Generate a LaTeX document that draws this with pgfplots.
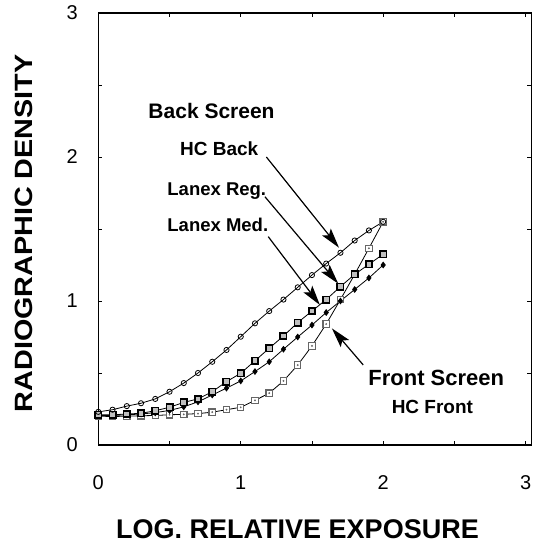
\documentclass[border=0pt]{standalone}
\usepackage{pgfplots}
\pgfplotsset{compat=1.18}
\usepackage{fontspec}
\setmainfont{Liberation Sans}
\usetikzlibrary{arrows.meta}

\begin{document}
\begin{tikzpicture}
\useasboundingbox (0,0) rectangle (540bp,545bp);
\begin{axis}[
  at={(98.3bp,100bp)}, anchor=south west,
  scale only axis, width=433bp, height=432bp,
  xmin=0, xmax=3.04, ymin=0, ymax=3,
  xtick={0,0.5,...,3}, xticklabels={0,,1,,2,,3},
  ytick={0,0.5,...,3}, yticklabels={0,,1,,2,,3},
  tick align=inside, major tick length=4bp,
  tick style={line width=0.8bp, black},
  axis line style={line width=1.3bp},
  /pgf/number format/assume math mode=true,
  ticklabel style={font=\fontsize{20bp}{24bp}\selectfont},
  xticklabel style={yshift=-27bp},
  yticklabel style={xshift=-17bp},
  xlabel={LOG. RELATIVE EXPOSURE},
  ylabel={\scalebox{1.15}[1]{RADIOGRAPHIC DENSITY}},
  xlabel style={at={(axis description cs:0.46,-0.194)}, anchor=center, font=\fontsize{27bp}{30bp}\selectfont\bfseries},
  ylabel style={at={(axis description cs:-0.171,0.49)}, anchor=center, font=\fontsize{25bp}{30bp}\selectfont\bfseries},
  clip=false,
]
% HC Front
\addplot[black, line width=0.8bp, mark=square*, mark size=3.2bp, mark options={solid, draw=black!60, fill=white, line width=1.1bp}] coordinates {
(0,0.2)(0.1,0.198)(0.2,0.2)(0.3,0.203)(0.4,0.205)(0.5,0.21)(0.6,0.213)(0.7,0.218)(0.8,0.228)(0.9,0.245)(1.0,0.262)(1.1,0.31)(1.2,0.36)(1.3,0.445)(1.4,0.555)(1.5,0.688)(1.6,0.84)(1.7,1.01)(1.8,1.185)(1.9,1.366)(2.0,1.55)};
\addplot[only marks, mark=*, mark size=0.7bp, mark options={draw=black!60, fill=black!60}] coordinates {
(0,0.2)(0.1,0.198)(0.2,0.2)(0.3,0.203)(0.4,0.205)(0.5,0.21)(0.6,0.213)(0.7,0.218)(0.8,0.228)(0.9,0.245)(1.0,0.262)(1.1,0.31)(1.2,0.36)(1.3,0.445)(1.4,0.555)(1.5,0.688)(1.6,0.84)(1.7,1.01)(1.8,1.185)(1.9,1.366)(2.0,1.55)};
% Lanex Med
\addplot[black, line width=0.8bp, mark=diamond*, mark size=2.8bp, mark options={solid, fill=black}] coordinates {
(0,0.205)(0.1,0.205)(0.2,0.21)(0.3,0.215)(0.4,0.225)(0.5,0.24)(0.6,0.265)(0.7,0.30)(0.8,0.347)(0.9,0.395)(1.0,0.445)(1.1,0.51)(1.2,0.578)(1.3,0.665)(1.4,0.75)(1.5,0.833)(1.6,0.92)(1.7,1.00)(1.8,1.08)(1.9,1.16)(2.0,1.25)};
% Lanex Reg
\addplot[black, line width=0.8bp, mark=square*, mark size=3.2bp, mark options={solid, draw=black, fill=gray!50, line width=1.6bp}] coordinates {
(0,0.21)(0.1,0.21)(0.2,0.215)(0.3,0.22)(0.4,0.238)(0.5,0.262)(0.6,0.296)(0.7,0.32)(0.8,0.37)(0.9,0.44)(1.0,0.498)(1.1,0.585)(1.2,0.672)(1.3,0.757)(1.4,0.85)(1.5,0.93)(1.6,1.01)(1.7,1.10)(1.8,1.185)(1.9,1.255)(2.0,1.325)};
% HC Back
\addplot[black, line width=0.8bp, mark=o, mark size=2.6bp, mark options={solid, fill=white, line width=0.8bp}] coordinates {
(0,0.23)(0.1,0.245)(0.2,0.27)(0.3,0.29)(0.4,0.32)(0.5,0.37)(0.6,0.43)(0.7,0.50)(0.8,0.578)(0.9,0.66)(1.0,0.752)(1.1,0.845)(1.2,0.93)(1.3,1.01)(1.4,1.095)(1.5,1.18)(1.6,1.26)(1.7,1.335)(1.8,1.42)(1.9,1.49)(2.0,1.55)};

% annotations
\node[anchor=base west, inner sep=0pt, font=\fontsize{21bp}{25bp}\selectfont\bfseries] at (axis cs:0.351,2.269) {Back Screen};
\node[anchor=base west, inner sep=0pt, font=\fontsize{19bp}{23bp}\selectfont\bfseries] at (axis cs:0.573,2.007) {HC Back};
\node[anchor=base west, inner sep=0pt, font=\fontsize{18.5bp}{23bp}\selectfont\bfseries] at (axis cs:0.484,1.736) {Lanex Reg.};
\node[anchor=base west, inner sep=0pt, font=\fontsize{18.5bp}{23bp}\selectfont\bfseries] at (axis cs:0.484,1.486) {Lanex Med.};
\node[anchor=base west, inner sep=0pt, font=\fontsize{22bp}{26bp}\selectfont\bfseries] at (axis cs:1.895,0.412) {Front Screen};
\node[anchor=base west, inner sep=0pt, font=\fontsize{19bp}{23bp}\selectfont\bfseries] at (axis cs:2.059,0.22) {HC Front};

\draw[line width=1.2bp, -{Stealth[length=20bp, width=11bp, inset=4bp]}] (axis cs:1.18,2.0) -- (axis cs:1.69,1.37);
\draw[line width=1.2bp, -{Stealth[length=20bp, width=11bp, inset=4bp]}] (axis cs:1.17,1.724) -- (axis cs:1.685,1.12);
\draw[line width=1.2bp, -{Stealth[length=20bp, width=11bp, inset=4bp]}] (axis cs:1.193,1.447) -- (axis cs:1.556,0.972);
\draw[line width=1.2bp, -{Stealth[length=20bp, width=11bp, inset=4bp]}] (axis cs:1.86,0.556) -- (axis cs:1.64,0.81);
\end{axis}
\end{tikzpicture}
\end{document}
